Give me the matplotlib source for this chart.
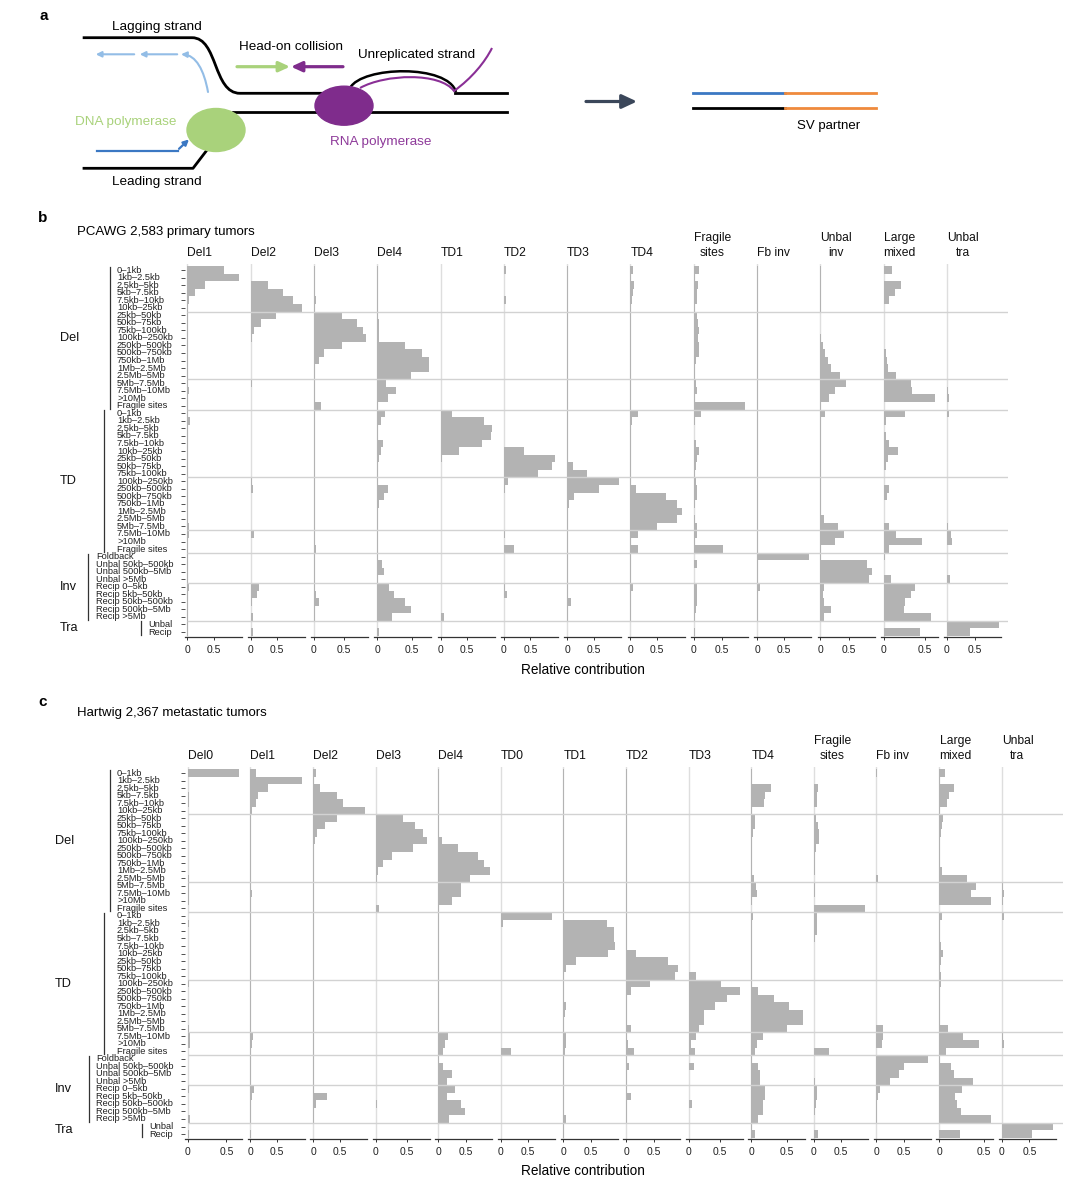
import numpy as np
import matplotlib
matplotlib.use('Agg')
import matplotlib.pyplot as plt
import matplotlib.transforms as mtransforms
from matplotlib.patches import Ellipse, FancyArrowPatch, PathPatch
from matplotlib.path import Path

plt.rcParams['font.family'] = ['Liberation Sans', 'DejaVu Sans']

# ------------------------------------------------------------------ row labels
del_rows = ['0–1kb', '1kb–2.5kb', '2.5kb–5kb', '5kb–7.5kb', '7.5kb–10kb', '10kb–25kb',
            '25kb–50kb', '50kb–75kb', '75kb–100kb', '100kb–250kb', '250kb–500kb',
            '500kb–750kb', '750kb–1Mb', '1Mb–2.5Mb', '2.5Mb–5Mb', '5Mb–7.5Mb',
            '7.5Mb–10Mb', '>10Mb', 'Fragile sites']
td_rows = list(del_rows)
inv_rows = ['Foldback', 'Unbal 50kb–500kb', 'Unbal 500kb–5Mb', 'Unbal >5Mb', 'Recip 0–5kb',
            'Recip 5kb–50kb', 'Recip 50kb–500kb', 'Recip 500kb–5Mb', 'Recip >5Mb']
tra_rows = ['Unbal', 'Recip']
group_names = ['Del', 'TD', 'Inv', 'Tra']

pcawg_titles = ['Del1', 'Del2', 'Del3', 'Del4', 'TD1', 'TD2', 'TD3', 'TD4',
                'Fragile\nsites', 'Fb inv', 'Unbal\ninv', 'Large\nmixed', 'Unbal\ntra']
hmf_titles = ['Del0', 'Del1', 'Del2', 'Del3', 'Del4', 'TD0', 'TD1', 'TD2', 'TD3', 'TD4',
              'Fragile\nsites', 'Fb inv', 'Large\nmixed', 'Unbal\ntra']

# ------------------------------------------------------------------ PCAWG values (Del 19 | TD 19 | Inv 9 | Tra 2)
pcawg_del1 = [0.70, 0.98, 0.34, 0.15, 0.04, 0.02, 0.01, 0.01, 0.01, 0.01, 0.01, 0.01, 0.01, 0.01, 0.01, 0.01, 0.03, 0.01, 0.01,
              0.01, 0.05, 0.01, 0.01, 0.01, 0.01, 0.01, 0.01, 0.01, 0.01, 0.01, 0.01, 0.01, 0.01, 0.01, 0.03, 0.04, 0.02, 0.01,
              0.01, 0.01, 0.01, 0.02, 0.04, 0.02, 0.01, 0.01, 0.01,
              0.01, 0.02]
pcawg_del2 = [0.01, 0.01, 0.33, 0.61, 0.80, 0.98, 0.49, 0.20, 0.07, 0.02, 0.01, 0.01, 0.01, 0.01, 0.01, 0.02, 0.01, 0.01, 0.01,
              0.01, 0.01, 0.01, 0.01, 0.01, 0.01, 0.01, 0.01, 0.01, 0.02, 0.04, 0.01, 0.01, 0.01, 0.01, 0.01, 0.07, 0.01, 0.01,
              0.01, 0.01, 0.01, 0.01, 0.16, 0.13, 0.02, 0.01, 0.05,
              0.01, 0.05]
pcawg_del3 = [0.01, 0.01, 0.01, 0.01, 0.03, 0.01, 0.46, 0.71, 0.81, 0.86, 0.46, 0.16, 0.08, 0.01, 0.01, 0.01, 0.01, 0.01, 0.11,
              0.01, 0.01, 0.01, 0.01, 0.01, 0.01, 0.01, 0.01, 0.01, 0.01, 0.01, 0.01, 0.01, 0.01, 0.01, 0.01, 0.01, 0.01, 0.03,
              0.01, 0.01, 0.01, 0.01, 0.01, 0.04, 0.08, 0.01, 0.01,
              0.00, 0.00]
pcawg_del4 = [0.01, 0.01, 0.01, 0.01, 0.01, 0.01, 0.01, 0.02, 0.02, 0.02, 0.40, 0.64, 0.74, 0.74, 0.48, 0.12, 0.27, 0.16, 0.01,
              0.11, 0.06, 0.01, 0.01, 0.08, 0.05, 0.02, 0.01, 0.01, 0.01, 0.16, 0.10, 0.03, 0.01, 0.01, 0.01, 0.01, 0.01, 0.01,
              0.01, 0.07, 0.09, 0.01, 0.17, 0.24, 0.40, 0.49, 0.21,
              0.00, 0.03]
pcawg_td1 = [0.01, 0.01, 0.01, 0.01, 0.01, 0.01, 0.01, 0.01, 0.01, 0.01, 0.01, 0.01, 0.01, 0.01, 0.01, 0.01, 0.01, 0.01, 0.01,
             0.21, 0.82, 0.98, 0.95, 0.78, 0.35, 0.03, 0.01, 0.01, 0.01, 0.01, 0.01, 0.01, 0.01, 0.01, 0.01, 0.01, 0.01, 0.01,
             0.01, 0.01, 0.01, 0.01, 0.01, 0.01, 0.01, 0.01, 0.07,
             0.01, 0.01]
pcawg_td2 = [0.05, 0.01, 0.01, 0.01, 0.04, 0.01, 0.01, 0.01, 0.01, 0.01, 0.01, 0.01, 0.01, 0.01, 0.01, 0.01, 0.01, 0.01, 0.01,
             0.01, 0.01, 0.01, 0.01, 0.01, 0.38, 0.97, 0.90, 0.64, 0.07, 0.02, 0.01, 0.01, 0.01, 0.01, 0.01, 0.02, 0.01, 0.20,
             0.01, 0.01, 0.01, 0.01, 0.02, 0.06, 0.01, 0.01, 0.01,
             0.00, 0.01]
pcawg_td3 = [0.01, 0.01, 0.01, 0.01, 0.01, 0.01, 0.01, 0.01, 0.01, 0.01, 0.01, 0.01, 0.01, 0.01, 0.01, 0.01, 0.01, 0.01, 0.01,
             0.01, 0.01, 0.01, 0.01, 0.01, 0.01, 0.01, 0.10, 0.36, 0.95, 0.59, 0.13, 0.04, 0.01, 0.01, 0.01, 0.01, 0.01, 0.01,
             0.01, 0.01, 0.01, 0.01, 0.01, 0.01, 0.07, 0.01, 0.01,
             0.00, 0.00]
pcawg_td4 = [0.05, 0.01, 0.06, 0.04, 0.03, 0.01, 0.01, 0.01, 0.01, 0.01, 0.01, 0.01, 0.01, 0.01, 0.01, 0.01, 0.01, 0.01, 0.01,
             0.15, 0.03, 0.01, 0.01, 0.01, 0.01, 0.01, 0.01, 0.01, 0.01, 0.10, 0.67, 0.89, 0.98, 0.89, 0.51, 0.14, 0.02, 0.15,
             0.01, 0.01, 0.01, 0.01, 0.05, 0.02, 0.02, 0.02, 0.02,
             0.00, 0.00]
pcawg_fragile = [0.09, 0.02, 0.07, 0.06, 0.05, 0.02, 0.06, 0.08, 0.10, 0.08, 0.10, 0.09, 0.04, 0.02, 0.02, 0.04, 0.06, 0.02, 0.91,
                 0.13, 0.02, 0.01, 0.01, 0.04, 0.09, 0.05, 0.04, 0.03, 0.04, 0.06, 0.05, 0.02, 0.01, 0.02, 0.05, 0.06, 0.02, 0.51,
                 0.01, 0.05, 0.01, 0.01, 0.05, 0.06, 0.05, 0.04, 0.02,
                 0.01, 0.03]
pcawg_fbinv = [0.01, 0.01, 0.01, 0.01, 0.01, 0.01, 0.01, 0.01, 0.01, 0.01, 0.01, 0.01, 0.01, 0.01, 0.01, 0.01, 0.01, 0.01, 0.01,
               0.01, 0.01, 0.01, 0.01, 0.01, 0.01, 0.01, 0.01, 0.01, 0.01, 0.01, 0.01, 0.01, 0.01, 0.01, 0.01, 0.01, 0.01, 0.01,
               0.96, 0.01, 0.01, 0.01, 0.05, 0.01, 0.01, 0.01, 0.01,
               0.00, 0.00]
pcawg_unbalinv = [0.01, 0.01, 0.01, 0.01, 0.01, 0.01, 0.00, 0.00, 0.00, 0.01, 0.04, 0.08, 0.13, 0.19, 0.35, 0.45, 0.26, 0.15, 0.01,
                  0.08, 0.01, 0.01, 0.01, 0.01, 0.01, 0.01, 0.01, 0.01, 0.01, 0.01, 0.01, 0.01, 0.01, 0.06, 0.31, 0.41, 0.26, 0.01,
                  0.01, 0.83, 0.91, 0.85, 0.06, 0.05, 0.06, 0.19, 0.07,
                  0.00, 0.00]
pcawg_large = [0.10, 0.01, 0.21, 0.14, 0.06, 0.01, 0.01, 0.01, 0.01, 0.01, 0.01, 0.03, 0.04, 0.05, 0.15, 0.34, 0.35, 0.63, 0.01,
               0.26, 0.03, 0.01, 0.03, 0.07, 0.17, 0.05, 0.03, 0.01, 0.01, 0.07, 0.04, 0.01, 0.01, 0.01, 0.06, 0.15, 0.47, 0.07,
               0.02, 0.01, 0.01, 0.09, 0.38, 0.34, 0.26, 0.25, 0.58,
               0.00, 0.45]
pcawg_unbaltra = [0.00, 0.00, 0.01, 0.01, 0.01, 0.00, 0.00, 0.00, 0.00, 0.00, 0.00, 0.00, 0.00, 0.00, 0.00, 0.01, 0.02, 0.03, 0.00,
                  0.04, 0.00, 0.00, 0.00, 0.00, 0.00, 0.00, 0.00, 0.00, 0.00, 0.00, 0.00, 0.00, 0.00, 0.00, 0.02, 0.07, 0.10, 0.00,
                  0.00, 0.00, 0.00, 0.05, 0.00, 0.00, 0.00, 0.00, 0.00,
                  0.93, 0.41]

# ------------------------------------------------------------------ Hartwig values
hmf_del0 = [0.67, 0.00, 0.00, 0.01, 0.01, 0.00, 0.00, 0.00, 0.00, 0.00, 0.00, 0.00, 0.00, 0.00, 0.01, 0.01, 0.02, 0.01, 0.00,
            0.00, 0.01, 0.00, 0.00, 0.00, 0.00, 0.00, 0.00, 0.00, 0.01, 0.00, 0.00, 0.00, 0.00, 0.00, 0.01, 0.03, 0.03, 0.00,
            0.00, 0.00, 0.00, 0.00, 0.02, 0.00, 0.00, 0.00, 0.03,
            0.00, 0.01]
hmf_del1 = [0.11, 0.96, 0.33, 0.15, 0.11, 0.02, 0.01, 0.01, 0.01, 0.01, 0.01, 0.01, 0.01, 0.01, 0.01, 0.01, 0.02, 0.01, 0.01,
            0.01, 0.01, 0.01, 0.01, 0.01, 0.01, 0.01, 0.01, 0.01, 0.01, 0.01, 0.01, 0.01, 0.01, 0.01, 0.01, 0.04, 0.02, 0.01,
            0.01, 0.01, 0.01, 0.01, 0.07, 0.02, 0.01, 0.01, 0.01,
            0.00, 0.01]
hmf_del2 = [0.05, 0.01, 0.13, 0.44, 0.55, 0.96, 0.44, 0.22, 0.08, 0.03, 0.01, 0.01, 0.01, 0.01, 0.01, 0.01, 0.01, 0.01, 0.01,
            0.01, 0.02, 0.01, 0.01, 0.01, 0.01, 0.01, 0.01, 0.01, 0.01, 0.01, 0.01, 0.01, 0.01, 0.01, 0.01, 0.01, 0.01, 0.01,
            0.01, 0.01, 0.01, 0.01, 0.01, 0.26, 0.05, 0.01, 0.01,
            0.00, 0.00]
hmf_del3 = [0.01, 0.01, 0.01, 0.01, 0.01, 0.01, 0.43, 0.62, 0.76, 0.82, 0.60, 0.26, 0.11, 0.04, 0.02, 0.01, 0.01, 0.01, 0.06,
            0.01, 0.01, 0.01, 0.01, 0.01, 0.01, 0.01, 0.01, 0.01, 0.01, 0.01, 0.01, 0.01, 0.01, 0.01, 0.01, 0.01, 0.01, 0.01,
            0.01, 0.01, 0.01, 0.01, 0.01, 0.01, 0.02, 0.01, 0.01,
            0.00, 0.00]
hmf_del4 = [0.01, 0.01, 0.01, 0.01, 0.01, 0.01, 0.01, 0.01, 0.01, 0.07, 0.36, 0.72, 0.83, 0.94, 0.57, 0.42, 0.41, 0.25, 0.01,
            0.01, 0.01, 0.01, 0.01, 0.01, 0.01, 0.01, 0.01, 0.01, 0.01, 0.01, 0.01, 0.01, 0.01, 0.01, 0.02, 0.17, 0.12, 0.08,
            0.01, 0.08, 0.25, 0.16, 0.31, 0.16, 0.42, 0.48, 0.20,
            0.00, 0.00]
hmf_td0 = [0.00, 0.00, 0.00, 0.00, 0.00, 0.00, 0.00, 0.00, 0.00, 0.00, 0.00, 0.00, 0.00, 0.00, 0.00, 0.00, 0.00, 0.00, 0.00,
           0.95, 0.04, 0.00, 0.00, 0.00, 0.00, 0.00, 0.00, 0.00, 0.00, 0.00, 0.00, 0.00, 0.00, 0.00, 0.00, 0.00, 0.00, 0.19,
           0.00, 0.00, 0.00, 0.00, 0.00, 0.00, 0.00, 0.00, 0.00,
           0.00, 0.00]
hmf_td1 = [0.01, 0.01, 0.01, 0.01, 0.01, 0.01, 0.01, 0.01, 0.01, 0.01, 0.01, 0.01, 0.01, 0.01, 0.01, 0.01, 0.01, 0.01, 0.01,
           0.01, 0.78, 0.91, 0.92, 0.93, 0.80, 0.23, 0.05, 0.01, 0.01, 0.01, 0.01, 0.04, 0.02, 0.01, 0.01, 0.05, 0.05, 0.03,
           0.01, 0.01, 0.01, 0.01, 0.01, 0.01, 0.01, 0.01, 0.04,
           0.01, 0.01]
hmf_td2 = [0.01, 0.01, 0.01, 0.01, 0.01, 0.01, 0.01, 0.01, 0.01, 0.01, 0.01, 0.01, 0.01, 0.01, 0.01, 0.01, 0.01, 0.01, 0.01,
           0.01, 0.01, 0.01, 0.01, 0.01, 0.17, 0.74, 0.92, 0.87, 0.43, 0.08, 0.01, 0.01, 0.01, 0.01, 0.08, 0.02, 0.03, 0.14,
           0.01, 0.05, 0.01, 0.01, 0.01, 0.09, 0.02, 0.01, 0.01,
           0.00, 0.00]
hmf_td3 = [0.01, 0.01, 0.01, 0.01, 0.01, 0.01, 0.01, 0.01, 0.01, 0.01, 0.01, 0.01, 0.01, 0.01, 0.01, 0.01, 0.01, 0.01, 0.01,
           0.01, 0.01, 0.01, 0.01, 0.01, 0.01, 0.01, 0.01, 0.11, 0.52, 0.82, 0.61, 0.42, 0.25, 0.25, 0.17, 0.11, 0.03, 0.10,
           0.01, 0.09, 0.01, 0.01, 0.01, 0.01, 0.05, 0.01, 0.01,
           0.00, 0.00]
hmf_td4 = [0.01, 0.01, 0.28, 0.20, 0.18, 0.01, 0.06, 0.06, 0.03, 0.01, 0.01, 0.01, 0.01, 0.01, 0.04, 0.07, 0.08, 0.01, 0.00,
           0.03, 0.01, 0.01, 0.01, 0.01, 0.01, 0.01, 0.01, 0.01, 0.01, 0.10, 0.32, 0.53, 0.73, 0.73, 0.50, 0.16, 0.08, 0.06,
           0.01, 0.09, 0.12, 0.13, 0.20, 0.20, 0.17, 0.17, 0.10,
           0.01, 0.05]
hmf_fragile = [0.01, 0.01, 0.07, 0.06, 0.05, 0.01, 0.04, 0.07, 0.10, 0.10, 0.04, 0.02, 0.02, 0.02, 0.01, 0.02, 0.03, 0.01, 0.95,
               0.05, 0.05, 0.05, 0.02, 0.01, 0.01, 0.01, 0.01, 0.01, 0.01, 0.01, 0.01, 0.01, 0.01, 0.01, 0.01, 0.01, 0.01, 0.28,
               0.01, 0.01, 0.01, 0.02, 0.06, 0.05, 0.04, 0.03, 0.01,
               0.01, 0.08]
hmf_fbinv = [0.01, 0.00, 0.00, 0.00, 0.00, 0.00, 0.00, 0.00, 0.00, 0.00, 0.00, 0.00, 0.00, 0.00, 0.02, 0.00, 0.00, 0.00, 0.00,
             0.00, 0.00, 0.00, 0.00, 0.00, 0.00, 0.00, 0.00, 0.00, 0.00, 0.00, 0.00, 0.00, 0.00, 0.00, 0.12, 0.12, 0.10, 0.00,
             0.94, 0.51, 0.41, 0.24, 0.07, 0.02, 0.01, 0.01, 0.01,
             0.00, 0.00]
hmf_large = [0.07, 0.01, 0.17, 0.11, 0.09, 0.01, 0.04, 0.03, 0.02, 0.01, 0.01, 0.01, 0.01, 0.03, 0.31, 0.42, 0.36, 0.58, 0.00,
             0.03, 0.01, 0.01, 0.01, 0.02, 0.04, 0.02, 0.01, 0.02, 0.02, 0.01, 0.01, 0.01, 0.01, 0.01, 0.10, 0.27, 0.45, 0.08,
             0.01, 0.13, 0.17, 0.38, 0.26, 0.18, 0.20, 0.25, 0.58,
             0.00, 0.24]
hmf_unbaltra = [0.00, 0.00, 0.00, 0.00, 0.00, 0.00, 0.00, 0.00, 0.00, 0.00, 0.00, 0.00, 0.00, 0.00, 0.00, 0.02, 0.05, 0.03, 0.00,
                0.04, 0.00, 0.00, 0.00, 0.00, 0.00, 0.00, 0.00, 0.00, 0.00, 0.00, 0.00, 0.00, 0.00, 0.00, 0.00, 0.02, 0.05, 0.00,
                0.00, 0.00, 0.00, 0.00, 0.00, 0.00, 0.00, 0.00, 0.00,
                0.93, 0.55]

pcawg_data = [pcawg_del1, pcawg_del2, pcawg_del3, pcawg_del4, pcawg_td1, pcawg_td2, pcawg_td3, pcawg_td4,
              pcawg_fragile, pcawg_fbinv, pcawg_unbalinv, pcawg_large, pcawg_unbaltra]
hmf_data = [hmf_del0, hmf_del1, hmf_del2, hmf_del3, hmf_del4, hmf_td0, hmf_td1, hmf_td2, hmf_td3, hmf_td4,
            hmf_fragile, hmf_fbinv, hmf_large, hmf_unbaltra]

# ------------------------------------------------------------------ figure
FW, FH = 1080, 1184
fig = plt.figure(figsize=(FW / 100, FH / 100), dpi=100)
bg = fig.add_axes([0, 0, 1, 1], zorder=0)
bg.set_xlim(0, FW)
bg.set_ylim(FH, 0)
bg.axis('off')

BAR = '#b3b3b3'
GRID = '#d2d2d2'
DARK = '#333333'
row_labels = del_rows + td_rows + inv_rows + tra_rows
N = len(row_labels)
group_sizes = [len(del_rows), len(td_rows), len(inv_rows), len(tra_rows)]
separators = [5.5, 14.5, 18.5, 27.5, 34.5, 37.5, 41.5, 46.5]


def section(titles, data, left0, step, top, bottom, width, grp_label_x, lbl_x, brk_x):
    axes = []
    for j, (t, vals) in enumerate(zip(titles, data)):
        assert len(vals) == N, (t, len(vals))
        left = left0 + step * j
        ax = fig.add_axes([left / FW, 1 - bottom / FH, width / FW, (bottom - top) / FH], zorder=2)
        ax.patch.set_alpha(0)
        y = np.arange(N)
        ax.axvline(0, color='#dedede', lw=1.0, zorder=1)
        ax.barh(y, vals, height=1.0, color=BAR, lw=0, zorder=2)
        m = max(vals)
        ax.set_xlim(-0.055 * m, 1.05 * m)
        ax.set_ylim(N - 0.34, -0.8)
        for s in ['top', 'right', 'left']:
            ax.spines[s].set_visible(False)
        ax.spines['bottom'].set_color(DARK)
        ax.spines['bottom'].set_linewidth(0.9)
        ax.set_xticks([0, 0.5])
        ax.set_xticklabels(['0', '0.5'])
        ax.tick_params(axis='x', length=2.5, width=0.7, color=DARK, labelsize=7.5, pad=3,
                       labelcolor='#222222')
        if j == 0:
            ax.set_yticks(y)
            ax.set_yticklabels([])
            ax.tick_params(axis='y', length=3, width=0.6, color=DARK)
        else:
            ax.set_yticks([])
        tr = mtransforms.blended_transform_factory(ax.transData, ax.transAxes)
        ax.text(0, 1 + 5.0 / (bottom - top), t, transform=tr, ha='left', va='bottom',
                fontsize=8.7, multialignment='center', linespacing=1.3, color='#111111')
        axes.append(ax)
    # horizontal separators spanning all panels
    x0 = left0 + 0.05 * width
    x1 = left0 + step * (len(titles) - 1) + width + 7
    g = fig.add_axes([x0 / FW, 1 - bottom / FH, (x1 - x0) / FW, (bottom - top) / FH], zorder=3)
    g.set_xlim(0, 1)
    g.set_ylim(N - 0.34, -0.8)
    g.axis('off')
    g.hlines(separators, 0, 1, color=GRID, lw=1.0)
    # row labels, brackets and group labels
    trl = mtransforms.blended_transform_factory(bg.transData, axes[0].transData)
    start = 0
    for gi, size in enumerate(group_sizes):
        for k in range(size):
            bg.text(lbl_x[gi], start + k, row_labels[start + k], transform=trl, ha='left',
                    va='center', fontsize=6.7, color='#222222', linespacing=1.0)
        bg.plot([brk_x[gi], brk_x[gi]], [start - 0.4, start + size - 0.6], transform=trl,
                color=DARK, lw=0.9)
        bg.text(grp_label_x, start + (size - 1) / 2.0, group_names[gi], transform=trl,
                ha='left', va='center', fontsize=9.2, color='#111111')
        start += size
    return axes


axes_b = section(pcawg_titles, pcawg_data, 184.5, 63.3, 264, 637, 57, 60,
                 [117, 117, 96, 148], [110, 104, 88, 141])
axes_c = section(hmf_titles, hmf_data, 185, 62.6, 767, 1139, 57, 55,
                 [117, 117, 96, 149], [110, 104, 89, 142])

# section titles / axis labels
bg.text(39, 16, 'a', fontsize=11, fontweight='bold', ha='left', va='center')
bg.text(38, 218, 'b', fontsize=11, fontweight='bold', ha='left', va='center')
bg.text(38, 702, 'c', fontsize=11, fontweight='bold', ha='left', va='center')
bg.text(77, 232, 'PCAWG 2,583 primary tumors', fontsize=9.5, ha='left', va='center')
bg.text(77, 713, 'Hartwig 2,367 metastatic tumors', fontsize=9.5, ha='left', va='center')
bg.text(583, 670, 'Relative contribution', fontsize=9.8, ha='center', va='center')
bg.text(583, 1171, 'Relative contribution', fontsize=9.8, ha='center', va='center')

# ------------------------------------------------------------------ schematic (panel a)
GREEN = '#a9d27b'
PURPLE = '#7f2c8c'
BLUE = '#3b78c3'
LBLUE = '#93bde6'
ORANGE = '#ef8a3c'
lw_dna = 2.0

# lagging parental strand
p = Path([(82.7, 37.7), (192, 37.7), (218, 37.7), (213, 93.3), (240, 93.3), (330, 93.3)],
         [Path.MOVETO, Path.LINETO, Path.CURVE4, Path.CURVE4, Path.CURVE4, Path.LINETO])
bg.add_patch(PathPatch(p, fc='none', ec='black', lw=lw_dna, zorder=2))
# right part of top strand + unreplicated bubble
bg.plot([455, 507], [93.3, 93.3], color='black', lw=lw_dna, zorder=2)
p = Path([(350, 88), (362, 66), (448, 64), (456, 92)],
         [Path.MOVETO, Path.CURVE4, Path.CURVE4, Path.CURVE4])
bg.add_patch(PathPatch(p, fc='none', ec='black', lw=1.8, zorder=2))
# RNA transcript
p = Path([(360, 88), (385, 74), (440, 72), (454, 91), (472, 78), (485, 62), (492, 48)],
         [Path.MOVETO, Path.CURVE4, Path.CURVE4, Path.CURVE4, Path.CURVE4, Path.CURVE4, Path.CURVE4])
bg.add_patch(PathPatch(p, fc='none', ec='#8a2f96', lw=1.5, zorder=2))
# leading parental strand
bg.plot([233, 507], [112.3, 112.3], color='black', lw=lw_dna, zorder=2)
bg.plot([84, 193, 207], [168.3, 168.3, 150], color='black', lw=lw_dna, zorder=2)
# new leading strand (blue)
bg.plot([97, 178], [150.7, 150.7], color=BLUE, lw=1.6, zorder=2)
bg.add_patch(FancyArrowPatch((177, 150.7), (191, 137.5), arrowstyle='-|>', mutation_scale=8,
                             color=BLUE, lw=1.6, zorder=2))
# Okazaki fragments (light blue)
p = Path([(208, 92), (204, 70), (196, 55), (181, 54.3)],
         [Path.MOVETO, Path.CURVE4, Path.CURVE4, Path.CURVE4])
bg.add_patch(FancyArrowPatch(path=p, arrowstyle='-|>', mutation_scale=8, color=LBLUE, lw=1.5, zorder=2))
bg.add_patch(FancyArrowPatch((180, 54.3), (137, 54.3), arrowstyle='-|>', mutation_scale=8,
                             color=LBLUE, lw=1.5, zorder=2))
bg.add_patch(FancyArrowPatch((137, 54.3), (93, 54.3), arrowstyle='-|>', mutation_scale=8,
                             color=LBLUE, lw=1.5, zorder=2))
# polymerases
bg.add_patch(Ellipse((216, 130), 58, 43, color=GREEN, zorder=3))
bg.add_patch(Ellipse((344, 105.7), 58, 39, color=PURPLE, zorder=3))
# head-on collision arrows
bg.add_patch(FancyArrowPatch((237, 66.7), (290, 66.7), arrowstyle='-|>,head_length=6.5,head_width=3.0',
                             mutation_scale=1.0, color=GREEN, lw=2.3, zorder=2, shrinkA=0, shrinkB=0))
bg.add_patch(FancyArrowPatch((343, 66.7), (291, 66.7), arrowstyle='-|>,head_length=6.5,head_width=3.0',
                             mutation_scale=1.0, color=PURPLE, lw=2.3, zorder=2, shrinkA=0, shrinkB=0))
# texts
bg.text(156.7, 26.7, 'Lagging strand', fontsize=9.7, ha='center', va='center')
bg.text(291, 46.7, 'Head-on collision', fontsize=9.7, ha='center', va='center')
bg.text(417, 55, 'Unreplicated strand', fontsize=9.7, ha='center', va='center')
bg.text(125.7, 122.3, 'DNA polymerase', fontsize=9.7, ha='center', va='center', color=GREEN)
bg.text(380.7, 141.7, 'RNA polymerase', fontsize=9.7, ha='center', va='center', color='#8e3a9a')
bg.text(156.7, 181.7, 'Leading strand', fontsize=9.7, ha='center', va='center')
# SV partner
bg.add_patch(FancyArrowPatch((586, 101.5), (637, 101.5), arrowstyle='-|>,head_length=9,head_width=4.2',
                             mutation_scale=1.0, color='#3b475a', lw=2.3, zorder=2, shrinkA=0, shrinkB=0))
bg.plot([693, 785], [93, 93], color=BLUE, lw=2.0)
bg.plot([785, 876], [93, 93], color=ORANGE, lw=2.0)
bg.plot([693, 785], [108, 108], color='black', lw=2.0)
bg.plot([785, 876], [108, 108], color=ORANGE, lw=2.0)
bg.text(829, 126, 'SV partner', fontsize=9.5, ha='center', va='center')

fig.savefig('out.png', dpi=100)
